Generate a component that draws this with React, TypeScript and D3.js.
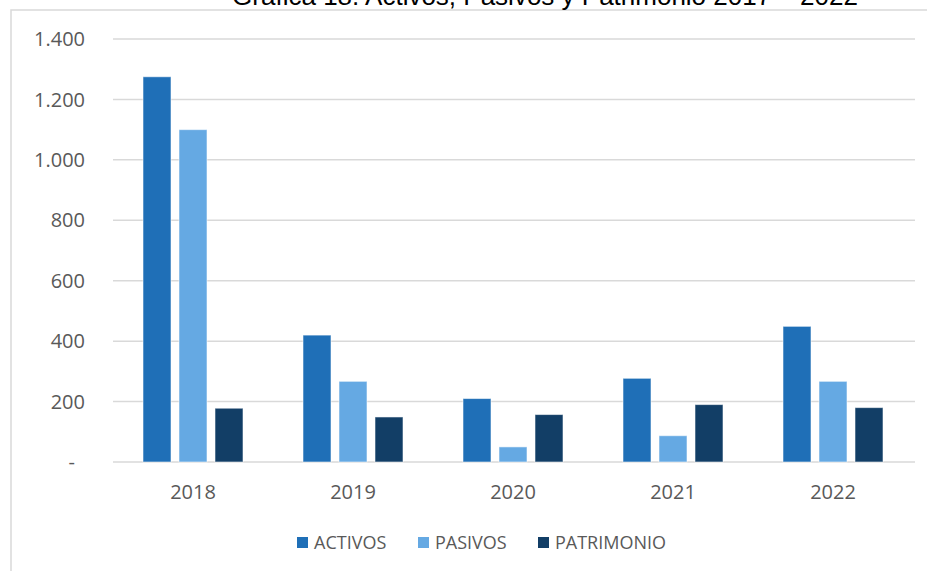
import React from "react";
import * as d3 from "d3";

// chart data
const years = ["2018", "2019", "2020", "2021", "2022"];
const seriesNames = ["ACTIVOS", "PASIVOS", "PATRIMONIO"];
const activos = [1275, 420, 210, 277, 449];
const pasivos = [1100, 267, 50, 87, 267];
const patrimonio = [178, 149, 157, 190, 180];
const yTicks = [0, 200, 400, 600, 800, 1000, 1200, 1400];
const colors = ["#1f6fb7", "#65a9e3", "#123e66"];
const title = "Gráfica 18. Activos, Pasivos y Patrimonio 2017 – 2022";

const W = 927;
const H = 571;
const margin = { top: 39, right: 12, bottom: 109, left: 113 };

export default function App() {
  const values = [activos, pasivos, patrimonio];

  const x = d3
    .scaleBand()
    .domain(years)
    .range([margin.left, W - margin.right - 2])
    .padding(0);

  // group of bars is 100px wide inside a 160px band
  const groupW = x.bandwidth() * 0.625;
  const xs = d3
    .scaleBand()
    .domain(seriesNames)
    .range([0, groupW])
    .paddingInner(8 / 36)
    .paddingOuter(0);

  const y = d3
    .scaleLinear()
    .domain([0, 1400])
    .range([H - margin.bottom, margin.top]);

  const locale = d3.formatLocale({
    decimal: ",",
    thousands: ".",
    grouping: [3],
    currency: ["$", ""],
  });
  const fmt = locale.format(",");

  const font = "'Open Sans', sans-serif";
  const textColor = "#595959";
  const gridColor = "#d9d9d9";

  // legend layout
  const legendX = [297, 418, 538];

  return (
    <svg
      width={W}
      height={H}
      style={{ position: "absolute", left: 0, top: 0, background: "#fff" }}
    >
      {/* chart frame */}
      <rect
        x={11}
        y={10}
        width={W + 10}
        height={H + 10}
        fill="#fff"
        stroke={gridColor}
        strokeWidth={1.5}
      />

      {/* title, cut off by the top edge as in the source image */}
      <text
        x={545}
        y={5}
        textAnchor="middle"
        fontFamily="'Liberation Sans', Arial, sans-serif"
        fontSize={26}
        fill="#000"
      >
        {title}
      </text>

      {/* gridlines + y labels */}
      {yTicks.map((t) => (
        <g key={t}>
          <line
            x1={margin.left}
            x2={W - margin.right}
            y1={y(t)}
            y2={y(t)}
            stroke={gridColor}
            strokeWidth={1.5}
          />
          <text
            x={t === 0 ? 75 : 85}
            y={y(t)}
            dy="0.36em"
            textAnchor="end"
            fontFamily={font}
            fontSize={20}
            fill={textColor}
          >
            {t === 0 ? "-" : fmt(t)}
          </text>
        </g>
      ))}

      {/* bars */}
      {years.map((yr, i) => {
        const gx = x(yr)! + (x.bandwidth() - groupW) / 2;
        return (
          <g key={yr}>
            {seriesNames.map((s, j) => (
              <rect
                key={s}
                x={gx + xs(s)!}
                y={y(values[j][i])}
                width={xs.bandwidth()}
                height={y(0) - y(values[j][i])}
                fill={colors[j]}
                stroke="rgba(255,255,255,0.55)"
                strokeWidth={1}
              />
            ))}
            <text
              x={x(yr)! + x.bandwidth() / 2}
              y={y(0) + 30}
              dy="0.36em"
              textAnchor="middle"
              fontFamily={font}
              fontSize={20}
              fill={textColor}
            >
              {yr}
            </text>
          </g>
        );
      })}

      {/* legend */}
      {seriesNames.map((s, j) => (
        <g key={s}>
          <rect x={legendX[j]} y={537} width={11} height={11} fill={colors[j]} />
          <text
            x={legendX[j] + 17}
            y={542.5}
            dy="0.36em"
            fontFamily={font}
            fontSize={18}
            fill={textColor}
          >
            {s}
          </text>
        </g>
      ))}
    </svg>
  );
}
